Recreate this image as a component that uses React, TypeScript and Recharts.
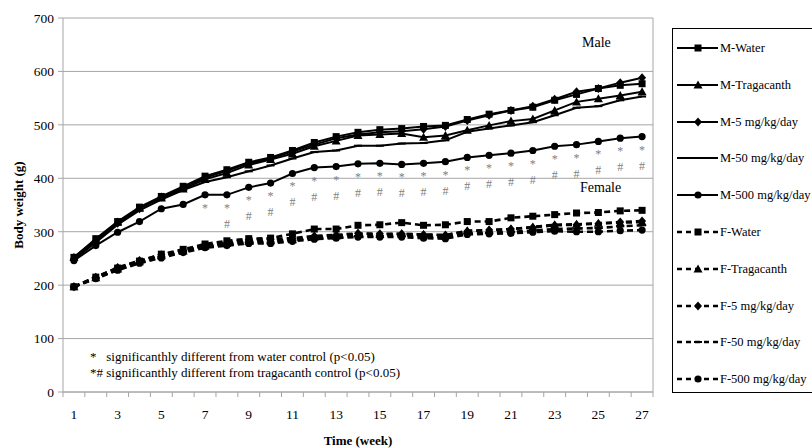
import React from 'react';
import { LineChart, Line, XAxis, YAxis, CartesianGrid, ReferenceLine } from 'recharts';

const weeks = [1, 2, 3, 4, 5, 6, 7, 8, 9, 10, 11, 12, 13, 14, 15, 16, 17, 18, 19, 20, 21, 22, 23, 24, 25, 26, 27];
const weekLabels = [1, 3, 5, 7, 9, 11, 13, 15, 17, 19, 21, 23, 25, 27];
const weekBounds = [0.5, 1.5, 2.5, 3.5, 4.5, 5.5, 6.5, 7.5, 8.5, 9.5, 10.5, 11.5, 12.5, 13.5, 14.5, 15.5, 16.5, 17.5, 18.5, 19.5, 20.5, 21.5, 22.5, 23.5, 24.5, 25.5, 26.5, 27.5];
const yTicks = [0, 100, 200, 300, 400, 500, 600, 700];

// male groups
const mWater = [252, 287, 319, 346, 366, 385, 404, 416, 430, 439, 452, 467, 478, 486, 491, 493, 497, 499, 510, 520, 527, 533, 546, 557, 568, 574, 577];
const mTrag = [252, 285, 318, 344, 363, 380, 398, 410, 425, 435, 446, 460, 470, 480, 482, 484, 477, 480, 490, 499, 507, 511, 527, 543, 549, 555, 562];
const m5 = [248, 283, 316, 343, 365, 383, 401, 414, 428, 437, 450, 463, 475, 482, 486, 488, 492, 497, 508, 518, 527, 535, 548, 562, 568, 579, 588];
const m50 = [248, 280, 313, 340, 360, 378, 393, 402, 413, 424, 437, 449, 452, 461, 461, 465, 466, 471, 487, 493, 499, 505, 518, 532, 535, 546, 553];
const m500 = [246, 274, 299, 319, 343, 351, 369, 369, 383, 391, 409, 420, 422, 427, 428, 426, 428, 431, 439, 443, 447, 452, 460, 463, 469, 475, 478];

// female groups
const fWater = [197, 215, 232, 245, 258, 267, 277, 283, 287, 288, 296, 305, 305, 312, 313, 317, 312, 313, 319, 319, 326, 329, 332, 335, 336, 339, 340];
const fTrag = [197, 214, 230, 244, 255, 264, 273, 278, 282, 283, 285, 290, 292, 296, 295, 296, 294, 293, 302, 303, 305, 309, 313, 314, 316, 317, 318];
const f5 = [197, 215, 233, 246, 257, 265, 274, 280, 285, 286, 288, 292, 294, 297, 296, 296, 295, 294, 301, 303, 305, 308, 312, 313, 315, 318, 320];
const f50 = [197, 213, 229, 242, 253, 263, 272, 276, 280, 280, 284, 288, 290, 292, 292, 293, 291, 290, 297, 298, 300, 302, 305, 306, 307, 310, 312];
const f500 = [197, 212, 228, 241, 251, 261, 270, 274, 278, 278, 282, 286, 288, 290, 290, 290, 288, 287, 295, 296, 297, 299, 301, 300, 300, 302, 303];

// significance marks on M-500 (* vs water, # vs tragacanth)
const sigWater = [0, 0, 0, 0, 0, 0, 1, 1, 1, 1, 1, 1, 1, 1, 1, 1, 1, 1, 1, 1, 1, 1, 1, 1, 1, 1, 1];
const sigTrag = [0, 0, 0, 0, 0, 0, 0, 1, 1, 1, 1, 1, 1, 1, 1, 1, 1, 1, 1, 1, 1, 1, 1, 1, 1, 1, 1];

const data = weeks.map((week, i) => ({
  week,
  mWater: mWater[i], mTrag: mTrag[i], m5: m5[i], m50: m50[i], m500: m500[i],
  fWater: fWater[i], fTrag: fTrag[i], f5: f5[i], f50: f50[i], f500: f500[i],
  sigW: sigWater[i], sigT: sigTrag[i],
}));

type Shape = 'square' | 'triangle' | 'diamond' | 'dash' | 'circle';

const series: { key: string; name: string; shape: Shape; dashed: boolean }[] = [
  { key: 'mWater', name: 'M-Water', shape: 'square', dashed: false },
  { key: 'mTrag', name: 'M-Tragacanth', shape: 'triangle', dashed: false },
  { key: 'm5', name: 'M-5 mg/kg/day', shape: 'diamond', dashed: false },
  { key: 'm50', name: 'M-50 mg/kg/day', shape: 'dash', dashed: false },
  { key: 'm500', name: 'M-500 mg/kg/day', shape: 'circle', dashed: false },
  { key: 'fWater', name: 'F-Water', shape: 'square', dashed: true },
  { key: 'fTrag', name: 'F-Tragacanth', shape: 'triangle', dashed: true },
  { key: 'f5', name: 'F-5 mg/kg/day', shape: 'diamond', dashed: true },
  { key: 'f50', name: 'F-50 mg/kg/day', shape: 'dash', dashed: true },
  { key: 'f500', name: 'F-500 mg/kg/day', shape: 'circle', dashed: true },
];

const FONT = "'Liberation Serif', 'Times New Roman', serif";
const GRID = '#a6a6a6';

function Marker({ shape, cx, cy }: { shape: Shape; cx: number; cy: number }) {
  if (shape === 'square') return <rect x={cx - 3.5} y={cy - 3.5} width={7} height={7} fill="#000" />;
  if (shape === 'triangle')
    return <polygon points={`${cx},${cy - 4.5} ${cx + 4.5},${cy + 3.5} ${cx - 4.5},${cy + 3.5}`} fill="#000" />;
  if (shape === 'diamond')
    return <polygon points={`${cx},${cy - 4.5} ${cx + 4},${cy} ${cx},${cy + 4.5} ${cx - 4},${cy}`} fill="#000" />;
  if (shape === 'dash') return <rect x={cx - 4} y={cy - 1} width={8} height={2} fill="#000" />;
  return <circle cx={cx} cy={cy} r={3.6} fill="#000" />;
}

const makeDot = (shape: Shape, annotate: boolean) => (p: any) => {
  const { cx, cy, index, payload } = p;
  return (
    <g key={`dot-${index}`}>
      <Marker shape={shape} cx={cx} cy={cy} />
      {annotate && payload.sigW ? (
        <text x={cx} y={cy + 17} textAnchor="middle" fontSize={12} fill="#808080">*</text>
      ) : null}
      {annotate && payload.sigT ? (
        <text x={cx} y={cy + 33} textAnchor="middle" fontSize={12} fill="#808080">#</text>
      ) : null}
    </g>
  );
};

const XTick = (props: any) => {
  const { x, y, payload } = props;
  const v = payload.value;
  if (v % 1 !== 0) return <line x1={x} x2={x} y1={y} y2={y + 5} stroke={GRID} />;
  return (
    <text x={x} y={y + 27} textAnchor="middle" fontSize={13.5} fill="#000">
      {v}
    </text>
  );
};

const xTicks = [...weekBounds, ...weekLabels].sort((a, b) => a - b);

function LegendBox() {
  return (
    <div
      style={{
        position: 'absolute', left: 672, top: 28, width: 160, height: 365,
        border: '1px solid #000', background: '#fff', boxSizing: 'border-box',
      }}
    >
      {series.map((s, i) => (
        <div key={s.key} style={{ position: 'absolute', left: 4, top: 11 + i * 36.8, height: 16, whiteSpace: 'nowrap' }}>
          <svg width={44} height={16} style={{ position: 'absolute', left: 0, top: 0 }}>
            <line x1={0} x2={41} y1={8} y2={8} stroke="#000" strokeWidth={s.dashed ? 2.6 : 2} strokeDasharray={s.dashed ? '5 4' : undefined} />
            <Marker shape={s.shape} cx={21} cy={8} />
          </svg>
          <span style={{ position: 'absolute', left: 43, top: 0, fontSize: 12.5, lineHeight: '16px' }}>{s.name}</span>
        </div>
      ))}
    </div>
  );
}

export default function App() {
  return (
    <div style={{ position: 'absolute', left: 0, top: 0, width: 812, height: 448, overflow: 'hidden', background: '#fff', fontFamily: FONT }}>
      <LineChart width={812} height={448} data={data} margin={{ top: 18, right: 159, bottom: 0, left: 0 }}>
        <CartesianGrid vertical={false} stroke={GRID} />
        <XAxis
          dataKey="week"
          type="number"
          domain={[weekBounds[0], weekBounds[weekBounds.length - 1]]}
          ticks={xTicks}
          interval={0}
          tick={<XTick />}
          tickLine={false}
          tickSize={0}
          tickMargin={0}
          height={56}
          stroke={GRID}
          label={{ value: 'Time (week)', position: 'insideBottom', offset: 3, style: { fontWeight: 'bold', fontSize: 13, fill: '#000' } }}
        />
        <YAxis
          domain={[0, 700]}
          ticks={yTicks}
          width={63}
          tickSize={5}
          tickMargin={4}
          stroke={GRID}
          tick={{ fill: '#000', fontSize: 13.5 }}
          label={{ value: 'Body weight (g)', angle: -90, position: 'insideLeft', offset: 18, style: { textAnchor: 'middle', fontWeight: 'bold', fontSize: 13, fill: '#000' } }}
        />
        <ReferenceLine x={weekBounds[weekBounds.length - 1]} stroke={GRID} />
        {series.map((s) => (
          <Line
            key={s.key}
            dataKey={s.key}
            name={s.name}
            type="linear"
            stroke="#000"
            strokeWidth={s.dashed ? 2.6 : 2}
            strokeDasharray={s.dashed ? '6 4' : undefined}
            dot={makeDot(s.shape, s.key === 'm500')}
            activeDot={false}
            isAnimationActive={false}
          />
        ))}
      </LineChart>

      <div style={{ position: 'absolute', left: 582, top: 35, fontSize: 14 }}>Male</div>
      <div style={{ position: 'absolute', left: 580, top: 180, fontSize: 14 }}>Female</div>
      <div style={{ position: 'absolute', left: 90, top: 349, fontSize: 13, whiteSpace: 'pre' }}>
        {'*   significanthly different from water control (p<0.05)'}
      </div>
      <div style={{ position: 'absolute', left: 90, top: 365, fontSize: 13, whiteSpace: 'pre' }}>
        {'*# significanthly different from tragacanth control (p<0.05)'}
      </div>
      <LegendBox />
    </div>
  );
}
